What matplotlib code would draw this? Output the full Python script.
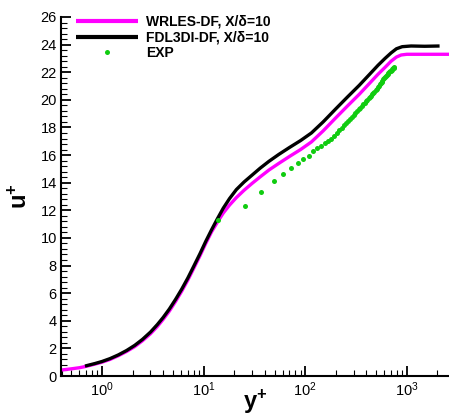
import matplotlib
matplotlib.use("Agg")
import matplotlib.pyplot as plt
from matplotlib.ticker import LogLocator, MultipleLocator, NullFormatter

plt.rcParams['font.family'] = ['Liberation Sans', 'DejaVu Sans']
plt.rcParams['mathtext.fontset'] = 'custom'
plt.rcParams['mathtext.rm'] = 'Liberation Sans'
plt.rcParams['mathtext.bf'] = 'Liberation Sans:bold'

# WRLES-DF (magenta)
wrles_y = [0.395, 0.5, 0.6, 0.7, 0.85, 1.0, 1.2, 1.45, 1.75, 2.1, 2.5, 3.0, 3.5, 4.0, 4.6,
           5.3, 6.1, 7.0, 8.0, 9.2, 10.5, 12.0, 13.7, 15.6, 18, 21, 25, 30, 36, 44, 55, 70,
           90, 115, 150, 200, 260, 340, 430, 520, 610, 700, 790, 880, 1000, 2600]
wrles_u = [0.43, 0.52, 0.6, 0.7, 0.86, 1.0, 1.2, 1.47, 1.78, 2.13, 2.55, 3.06, 3.58, 4.1, 4.7,
           5.4, 6.15, 6.95, 7.8, 8.7, 9.6, 10.45, 11.15, 11.8, 12.38, 12.92, 13.45, 13.95, 14.42,
           14.92, 15.4, 15.9, 16.4, 16.95, 17.75, 18.7, 19.55, 20.4, 21.2, 21.85, 22.35, 22.8,
           23.1, 23.25, 23.3, 23.3]

# FDL3DI-DF (black)
fdl_y = [0.68, 0.85, 1.0, 1.2, 1.45, 1.75, 2.1, 2.5, 3.0, 3.5, 4.0, 4.6, 5.3, 6.1, 7.0, 8.0,
         9.2, 10.5, 12.0, 13.7, 15.6, 18, 21, 25, 30, 36, 44, 55, 70, 90, 115, 150, 200, 260,
         340, 430, 520, 610, 700, 790, 900, 1100, 1500, 2100]
fdl_u = [0.72, 0.9, 1.05, 1.26, 1.53, 1.85, 2.22, 2.65, 3.18, 3.72, 4.24, 4.85, 5.55, 6.3, 7.1,
         7.95, 8.85, 9.75, 10.6, 11.4, 12.15, 12.85, 13.5, 14.05, 14.55, 15.05, 15.55, 16.05, 16.55,
         17.05, 17.6, 18.4, 19.35, 20.2, 21.05, 21.85, 22.5, 23.0, 23.4, 23.7, 23.85, 23.9,
         23.88, 23.9]

# EXP (green dots)
exp_y = [13.9, 25.5, 37, 49, 60.7, 72, 84, 96, 108, 120, 132, 144, 156, 168, 180, 192, 204,
         216, 228, 240, 252, 264, 276, 288, 300, 312, 324, 336, 348, 360, 372, 384, 396, 408,
         420, 432, 444, 456, 468, 480, 492, 504, 516, 528, 540, 552, 564, 576, 588, 600, 612,
         624, 636, 648, 660, 672, 684, 696, 708, 720, 732, 744, 756]
exp_u = [11.28, 12.3, 13.35, 14.14, 14.65, 15.04, 15.4, 15.71, 15.95, 16.29, 16.5, 16.68,
         16.85, 17.0, 17.18, 17.4, 17.6, 17.79, 17.97, 18.15, 18.31, 18.47, 18.61, 18.76,
         18.91, 19.05, 19.18, 19.31, 19.44, 19.56, 19.68, 19.79, 19.9, 20.01, 20.11, 20.21,
         20.31, 20.4, 20.49, 20.6, 20.71, 20.81, 20.92, 21.02, 21.12, 21.21, 21.31, 21.4,
         21.49, 21.58, 21.67, 21.75, 21.83, 21.89, 21.95, 22.01, 22.06, 22.12, 22.18, 22.23,
         22.28, 22.34, 22.39]

labels = ['WRLES-DF, X/δ=10', 'FDL3DI-DF, X/δ=10', 'EXP']

fig = plt.figure(figsize=(4.49, 4.17), dpi=100)
ax = fig.add_axes([61/449, 41/417, 388/449, 359/417])

ax.plot(wrles_y, wrles_u, color='#ff00ff', lw=2.4, label=labels[0], solid_capstyle='butt')
ax.plot(fdl_y, fdl_u, color='black', lw=2.4, label=labels[1], solid_capstyle='butt')
ax.plot(exp_y, exp_u, 'o', color='#10cc10', ms=3.6, mec='none', label=labels[2])

ax.set_xscale('log')
ax.set_xlim(0.395, 2600)
ax.set_ylim(0, 26)

for s in ['top', 'right']:
    ax.spines[s].set_visible(False)
for s in ['left', 'bottom']:
    ax.spines[s].set_linewidth(1.5)

ax.yaxis.set_major_locator(MultipleLocator(2))
ax.yaxis.set_minor_locator(MultipleLocator(0.4))
ax.xaxis.set_major_locator(LogLocator(base=10, numticks=10))
ax.xaxis.set_minor_locator(LogLocator(base=10, subs=range(2, 10), numticks=20))
ax.xaxis.set_minor_formatter(NullFormatter())
ax.tick_params(which='major', direction='in', length=7, width=1.3, labelsize=10.5, pad=3)
ax.tick_params(which='minor', direction='in', length=4, width=0.8)

ax.set_xlabel(r'$\mathbf{y^{+}}$', fontsize=17, labelpad=-8)
ax.set_ylabel(r'$\mathbf{u^{+}}$', fontsize=17, labelpad=6)

leg = ax.legend(loc='upper left', bbox_to_anchor=(0.022, 1.025), frameon=False,
                handlelength=4.4, handletextpad=0.6, labelspacing=0.12, numpoints=1,
                borderpad=0, prop={'weight': 'bold', 'size': 10})
for line in leg.get_lines()[:2]:
    line.set_linewidth(3)

fig.savefig('out.png', dpi=100)
